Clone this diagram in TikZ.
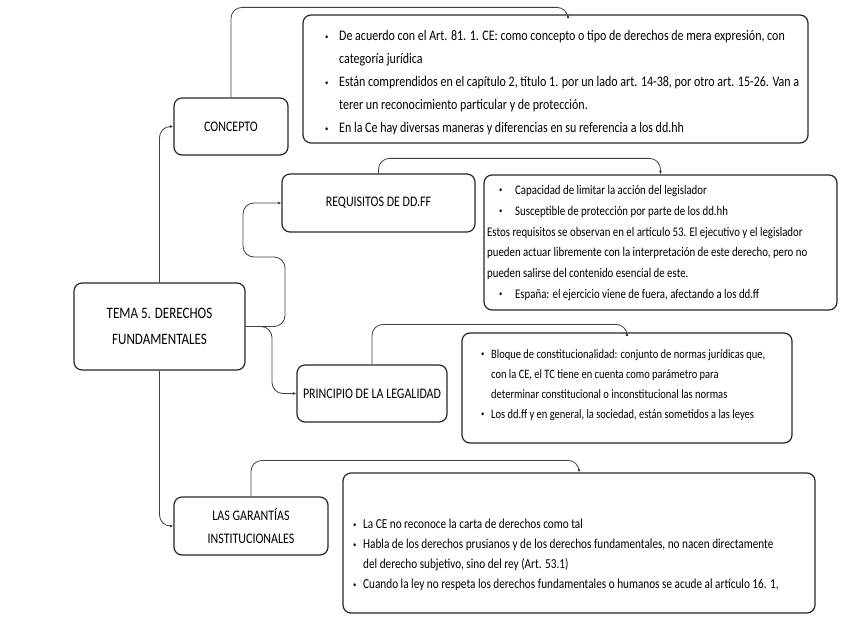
\documentclass[tikz,border=0pt]{standalone}
\usepackage{fontspec}
\setmainfont[FakeStretch=0.82]{Carlito}
\usetikzlibrary{arrows.meta}
\newcommand\bul[1]{\makebox[#1][l]{\raisebox{0.25ex}{\fontsize{8}{8}\selectfont\textbullet}}}
\newcommand\ind[1]{\hspace*{#1}}
\begin{document}
\begin{tikzpicture}[x=1pt,y=-1pt,
  box/.style={draw=black!85,line width=1.2pt,rounded corners=8pt,inner sep=0pt},
  title/.style={box,align=center,font=\fontsize{14.6}{22}\selectfont},
  txt/.style={inner sep=0pt,align=left,anchor=west},
  conn/.style={draw=black!75,line width=0.8pt,rounded corners=11pt},
  tip/.style={-{Latex[length=3.5pt,width=3pt]}}]
\useasboundingbox (0,0) rectangle (848,636);
% topic nodes
\node[title,minimum width=171pt,minimum height=87pt,font=\fontsize{15.9}{26}\selectfont] (tema) at (159.5,326.5) {TEMA 5. DERECHOS\\FUNDAMENTALES};
\node[title,minimum width=114pt,minimum height=57pt] (concepto) at (231,126.5) {CONCEPTO};
\node[title,minimum width=193pt,minimum height=58pt] (req) at (378.5,203) {REQUISITOS DE DD.FF};
\node[title,minimum width=150pt,minimum height=57pt] (princ) at (372,393.5) {PRINCIPIO DE LA LEGALIDAD};
\node[title,minimum width=154pt,minimum height=58pt,font=\fontsize{14.6}{23}\selectfont] (gar) at (251,526) {LAS GARANTÍAS\\INSTITUCIONALES};
% content boxes
\node[box,minimum width=505pt,minimum height=128pt] (cb) at (555.5,79) {};
\node[box,minimum width=353pt,minimum height=135pt] (rb) at (660.5,242.5) {};
\node[box,minimum width=330pt,minimum height=110pt] (pb) at (627,388) {};
\node[box,minimum width=472pt,minimum height=140pt] (gb) at (579,543) {};
% texts
\node[txt,font=\fontsize{14.6}{23}\selectfont] (cbt) at (325,83) {%
\bul{14pt}De acuerdo con el Art. 81. 1. CE: como concepto o tipo de derechos de mera expresión, con\\
\ind{14pt}categoría jurídica\\
\bul{14pt}Están comprendidos en el capítulo 2, título 1. por un lado art. 14-38, por otro art. 15-26. Van a\\
\ind{14pt}terer un reconocimiento particular y de protección.\\
\bul{14pt}En la Ce hay diversas maneras y diferencias en su referencia a los dd.hh};
\node[txt,font=\fontsize{13.2}{20.8}\selectfont] (rbt) at (487,243) {%
\ind{12pt}\bul{16pt}Capacidad de limitar la acción del legislador\\
\ind{12pt}\bul{16pt}Susceptible de protección por parte de los dd.hh\\
Estos requisitos se observan en el artículo 53. El ejecutivo y el legislador\\
pueden actuar libremente con la interpretación de este derecho, pero no\\
pueden salirse del contenido esencial de este.\\
\ind{12pt}\bul{16pt}España: el ejercicio viene de fuera, afectando a los dd.ff};
\node[txt,font=\fontsize{12.8}{20}\selectfont] (pbt) at (481,385) {%
\bul{10pt}Bloque de constitucionalidad: conjunto de normas jurídicas que,\\
\ind{10pt}con la CE, el TC tiene en cuenta como parámetro para\\
\ind{10pt}determinar constitucional o inconstitucional las normas\\
\bul{10pt}Los dd.ff y en general, la sociedad, están sometidos a las leyes};
\node[txt,font=\fontsize{13.7}{20}\selectfont] (gbt) at (353,555) {%
\bul{10pt}La CE no reconoce la carta de derechos como tal\\
\bul{10pt}Habla de los derechos prusianos y de los derechos fundamentales, no nacen directamente\\
\ind{10pt}del derecho subjetivo, sino del rey (Art. 53.1)\\
\bul{10pt}Cuando la ley no respeta los derechos fundamentales o humanos se acude al artículo 16. 1,};
% connectors
\draw[conn,tip] (tema.north) |- (concepto.west);
\draw[conn,tip] (concepto.north) |- ([xshift=12.5pt,yshift=7pt]cb.north) -- ([xshift=12.5pt]cb.north);
\draw[conn,tip] (tema.east) -- (285,326.5) -- (285,257) -- (243,257) -- (243,203) -- (req.west);
\draw[conn,tip] (req.north) |- ([yshift=16pt]rb.north) -- (rb.north);
\draw[conn,tip] (tema.east) -- (272,326.5) |- (princ.west);
\draw[conn,tip] (princ.north) |- ([yshift=8pt]pb.north) -- (pb.north);
\draw[conn,tip] (tema.south) |- (gar.west);
\draw[conn,tip] (gar.north) |- ([yshift=12pt]gb.north) -- (gb.north);
\end{tikzpicture}
\end{document}
